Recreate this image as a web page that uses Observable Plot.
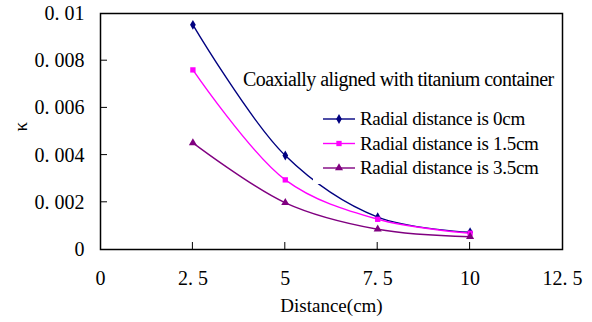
<!DOCTYPE html>
<html><head><meta charset="utf-8">
<script src="https://cdn.jsdelivr.net/npm/d3@7"></script>
<script src="https://cdn.jsdelivr.net/npm/@observablehq/plot@0.6"></script>
<style>body{margin:0;background:#fff} svg{display:block}</style>
</head><body><div id="chart"></div>
<script>
const distance = [2.5, 5, 7.5, 10];
const kappaR0 = [0.00952, 0.00398, 0.00137, 0.00073];
const kappaR15 = [0.00761, 0.00295, 0.00128, 0.00069];
const kappaR35 = [0.00452, 0.00198, 0.00086, 0.00054];
const seriesNames = ["Radial distance is 0cm", "Radial distance is 1.5cm", "Radial distance is 3.5cm"];
const seriesColors = ["#000080", "#FF00FF", "#800080"];
const seriesSymbols = ["diamond", "square", "triangle"];
const xTicks = [0, 2.5, 5, 7.5, 10, 12.5];
const yTicks = [0, 0.002, 0.004, 0.006, 0.008, 0.01];
const legendTitle = "Coaxially aligned with titanium container";

const seriesValues = [kappaR0, kappaR15, kappaR35];
const rows = [];
seriesNames.forEach((s, i) => distance.forEach((d, j) => rows.push({series: s, x: d, y: seriesValues[i][j]})));
const fmt = d => String(d).replace(".", ". ");
const serif = "'Liberation Serif', 'Times New Roman', 'DejaVu Serif', serif";

const plot = Plot.plot({
  width: 592, height: 322,
  marginLeft: 100, marginRight: 30, marginTop: 13, marginBottom: 73,
  style: {fontFamily: serif, fontSize: "20px", background: "#fff", color: "#000"},
  x: {domain: [0, 12.5]},
  y: {domain: [0, 0.01]},
  color: {domain: seriesNames, range: seriesColors},
  symbol: {domain: seriesNames, range: seriesSymbols},
  marks: [
    Plot.axisX(xTicks, {tickSize: 0, tickPadding: 21, tickFormat: fmt, label: null}),
    Plot.axisY(yTicks, {tickSize: 0, tickPadding: 16, tickFormat: fmt, label: null}),
    Plot.line(rows, {x: "x", y: "y", z: "series", stroke: "series", curve: "catmull-rom", strokeWidth: 1.4}),
    Plot.dot(rows, {x: "x", y: "y", fill: "series", symbol: "series", r: 3}),
    Plot.frame({stroke: "#000", strokeWidth: 1.5}),
    Plot.text(["Distance(cm)"], {frameAnchor: "bottom", dy: 62, fontSize: 19, letterSpacing: "-0.3px"}),
    Plot.text(["κ"], {frameAnchor: "left", dx: -80, rotate: -90, fontSize: 19})
  ]
});
document.getElementById("chart").appendChild(plot);

const svg = d3.select(plot);
// inward tick marks, placed with the plot's own scales
const xs = plot.scale("x"), ys = plot.scale("y");
const tg = svg.append("g").attr("stroke", "#000").attr("stroke-width", 1);
const yBottom = ys.apply(0), xLeft = xs.apply(0);
xTicks.slice(1, -1).forEach(t => tg.append("line").attr("x1", xs.apply(t)).attr("x2", xs.apply(t)).attr("y1", yBottom).attr("y2", yBottom - 7));
yTicks.slice(1, -1).forEach(t => tg.append("line").attr("y1", ys.apply(t)).attr("y2", ys.apply(t)).attr("x1", xLeft).attr("x2", xLeft + 7));

// legend (drawn inside the plot area, as in the reference)
const lg = svg.append("g").attr("font-family", serif).attr("text-anchor", "start");
lg.append("rect").attr("x", 313).attr("y", 100).attr("width", 247).attr("height", 84).attr("fill", "#fff");
lg.append("text").attr("x", 243).attr("y", 86).attr("font-size", 20).attr("letter-spacing", "-0.55px").text(legendTitle);
const symGen = {diamond: d3.symbolDiamond, square: d3.symbolSquare, triangle: d3.symbolTriangle};
seriesNames.forEach((s, i) => {
  const cy = 119 + i * 24.5;
  lg.append("line").attr("x1", 323).attr("x2", 355).attr("y1", cy).attr("y2", cy)
    .attr("stroke", seriesColors[i]).attr("stroke-width", 1.4);
  lg.append("path").attr("transform", `translate(339,${cy})`)
    .attr("d", d3.symbol(symGen[seriesSymbols[i]], 28)()).attr("fill", seriesColors[i]);
  lg.append("text").attr("x", 360).attr("y", cy + 6).attr("font-size", 19).attr("letter-spacing", "-0.3px").text(s);
});
</script>
</body></html>
